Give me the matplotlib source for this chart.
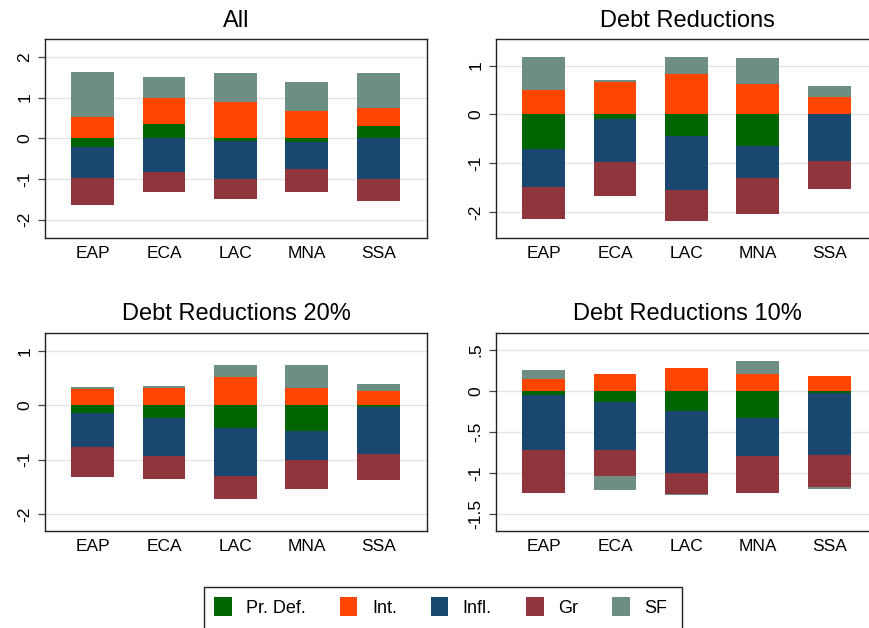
import matplotlib

matplotlib.use("Agg")
import matplotlib.pyplot as plt
import numpy as np
from matplotlib.patches import Patch, Rectangle


# Regions on the x axis and the five components of each stacked bar
REGIONS = ["EAP", "ECA", "LAC", "MNA", "SSA"]
SERIES = ["Pr. Def.", "Int.", "Infl.", "Gr", "SF"]
COLORS = ["#006400", "#ff4500", "#1a476f", "#90353b", "#6e8e84"]

# Values, one row per series (Pr. Def., Int., Infl., Gr, SF)
ALL = [
    [-0.21, 0.36, -0.06, -0.08, 0.30],
    [0.52, 0.64, 0.90, 0.67, 0.45],
    [-0.76, -0.83, -0.94, -0.67, -1.00],
    [-0.66, -0.50, -0.48, -0.57, -0.54],
    [1.11, 0.51, 0.70, 0.71, 0.85],
]
DEBT_RED = [
    [-0.72, -0.10, -0.44, -0.64, 0.00],
    [0.50, 0.67, 0.83, 0.63, 0.355],
    [-0.78, -0.88, -1.11, -0.66, -0.96],
    [-0.64, -0.69, -0.64, -0.74, -0.57],
    [0.68, 0.03, 0.34, 0.53, 0.225],
]
DEBT_RED_20 = [
    [-0.15, -0.24, -0.42, -0.48, -0.04],
    [0.29, 0.32, 0.51, 0.31, 0.26],
    [-0.62, -0.70, -0.88, -0.53, -0.86],
    [-0.55, -0.41, -0.42, -0.53, -0.47],
    [0.04, 0.03, 0.22, 0.42, 0.13],
]
DEBT_RED_10 = [
    [-0.05, -0.13, -0.245, -0.33, -0.03],
    [0.15, 0.21, 0.285, 0.21, 0.18],
    [-0.67, -0.59, -0.755, -0.46, -0.75],
    [-0.53, -0.32, -0.26, -0.46, -0.39],
    [0.11, -0.17, -0.015, 0.16, -0.025],
]

TITLES = ["All", "Debt Reductions", "Debt Reductions 20%", "Debt Reductions 10%"]
Y_TICKS = [
    [-2, -1, 0, 1, 2],
    [-2, -1, 0, 1],
    [-2, -1, 0, 1],
    [-1.5, -1, -0.5, 0, 0.5],
]
Y_TICK_LABELS = [
    ["-2", "-1", "0", "1", "2"],
    ["-2", "-1", "0", "1"],
    ["-2", "-1", "0", "1"],
    ["-1.5", "-1", "-.5", "0", ".5"],
]
Y_LIMITS = [(-2.44, 2.43), (-2.53, 1.54), (-2.31, 1.33), (-1.71, 0.71)]

# Axes rectangles in figure pixels (left, top, right, bottom) of an 870x628 canvas
FIG_W, FIG_H = 870, 628
AXES_PX = [
    (45, 39.3, 427, 237.7),
    (496, 39.3, 878, 237.7),
    (45, 332.8, 427, 531),
    (496, 332.8, 878, 531),
]

plt.rcParams["font.family"] = ["Liberation Sans", "DejaVu Sans"]


def draw_panel(ax, values, title, ticks, tick_labels, ylim):
    """Stack positives upward and negatives downward from zero."""
    x = np.arange(len(REGIONS))
    pos_base = np.zeros(len(REGIONS))
    neg_base = np.zeros(len(REGIONS))
    for row, color in zip(values, COLORS):
        row = np.asarray(row, dtype=float)
        bottom = np.where(row >= 0, pos_base, neg_base)
        ax.bar(x, row, bottom=bottom, width=0.6, color=color, linewidth=0, zorder=2)
        pos_base = pos_base + np.clip(row, 0, None)
        neg_base = neg_base + np.clip(row, None, 0)

    ax.set_xlim(-0.664, 4.68)
    ax.set_ylim(*ylim)
    ax.set_xticks(x)
    ax.set_xticklabels(REGIONS, fontsize=12.5)
    ax.set_yticks(ticks)
    ax.set_yticklabels(tick_labels, fontsize=12.5, rotation=90, va="center")
    ax.tick_params(axis="x", length=0, pad=6)
    ax.tick_params(axis="y", length=5, width=0.9, color="#444444", pad=4)
    ax.grid(axis="y", color="#e4e4e4", linewidth=1.0, zorder=0)
    ax.set_axisbelow(True)
    for spine in ax.spines.values():
        spine.set_color("#222222")
        spine.set_linewidth(1.0)
    ax.set_title(title, fontsize=17, pad=9)


def main():
    fig = plt.figure(figsize=(FIG_W / 100, FIG_H / 100), dpi=100)
    panels = [ALL, DEBT_RED, DEBT_RED_20, DEBT_RED_10]

    for i, values in enumerate(panels):
        left, top, right, bottom = AXES_PX[i]
        rect = [left / FIG_W, 1 - bottom / FIG_H, (right - left) / FIG_W, (bottom - top) / FIG_H]
        ax = fig.add_axes(rect)
        draw_panel(ax, values, TITLES[i], Y_TICKS[i], Y_TICK_LABELS[i], Y_LIMITS[i])

    # Shared legend at the bottom; the box runs off the bottom edge like the original
    handles = [Patch(facecolor=c, edgecolor="none") for c in COLORS]
    fig.legend(
        handles,
        SERIES,
        loc="upper left",
        bbox_to_anchor=(204 / FIG_W, 1 - 586.7 / FIG_H),
        ncol=5,
        fontsize=13,
        frameon=False,
        handlelength=0.98,
        handleheight=1.31,
        handletextpad=0.8,
        columnspacing=1.88,
        borderpad=0.55,
        borderaxespad=0,
    )
    frame = Rectangle(
        (204 / FIG_W, -0.02),
        (682 - 204) / FIG_W,
        (628 - 586.7) / FIG_H + 0.02,
        transform=fig.transFigure,
        fill=False,
        edgecolor="#222222",
        linewidth=1.0,
    )
    fig.add_artist(frame)

    fig.savefig("out.png", dpi=100)
    plt.close(fig)


if __name__ == "__main__":
    main()
